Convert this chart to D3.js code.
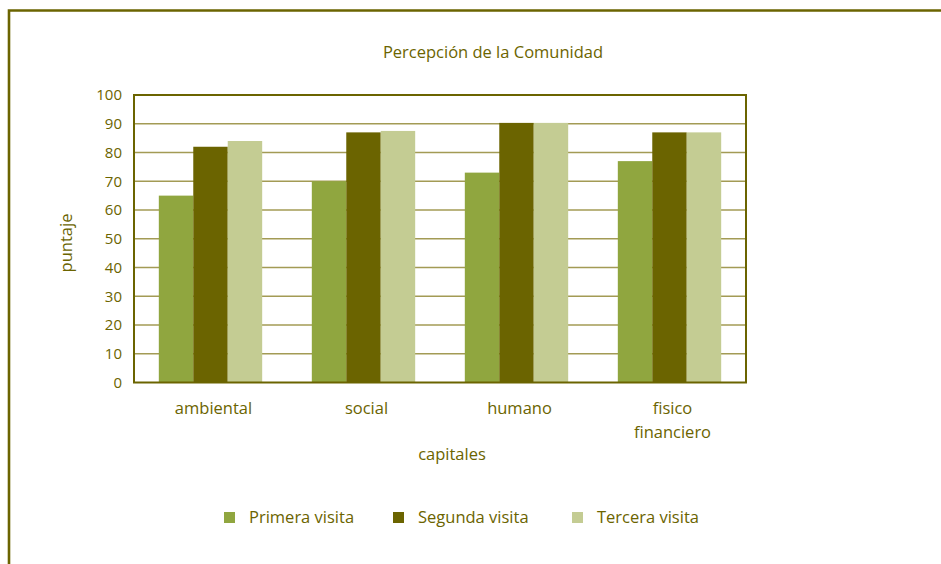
<!DOCTYPE html>
<html>
<head>
<meta charset="utf-8">
<script src="https://cdn.jsdelivr.net/npm/d3@7"></script>
<style>
  body { margin: 0; background: #fff; }
  text { font-family: "Open Sans", "Noto Sans", sans-serif; fill: #6b6400; }
</style>
</head>
<body>
<div id="chart"></div>
<script>
  // DATA
  var categories = ["ambiental", "social", "humano", "fisico financiero"];
  var series = ["Primera visita", "Segunda visita", "Tercera visita"];
  var primera = [65, 70, 73, 77];
  var segunda = [82, 87, 90.3, 87];
  var tercera = [84, 87.5, 90.3, 87];
  var yTicks = [0, 10, 20, 30, 40, 50, 60, 70, 80, 90, 100];
  var colors = ["#90a63f", "#6b6400", "#c4cc93"];

  var width = 941, height = 564;
  var plotLeft = 134, plotRight = 746, plotTop = 95, plotBottom = 382.5;
  var olive = "#6b6400";
  var fontSize = "16.5px";

  var svg = d3.select("#chart").append("svg")
              .attr("width", width)
              .attr("height", height);

  // outer frame (top + left edges only)
  svg.append("path")
     .attr("d", "M9," + height + " L9,10.5 L" + width + ",10.5")
     .style("fill", "none")
     .style("stroke", olive)
     .style("stroke-width", 2.6);

  // title
  svg.append("text").attr("x", 493).attr("y", 58).style("text-anchor", "middle")
     .style("font-size", fontSize).text("Percepción de la Comunidad");

  // SCALES
  var x = d3.scaleBand().domain(categories).range([plotLeft, plotRight]).padding(0);
  var xs = d3.scaleBand().domain(series).range([0, x.bandwidth()]).paddingInner(0).paddingOuter(0.72);
  var y = d3.scaleLinear().domain([0, 100]).range([plotBottom, plotTop]);

  // gridlines
  svg.append("g").selectAll("line").data(yTicks.filter(function(d) { return d > 0 && d < 100; }))
     .enter().append("line")
     .attr("x1", plotLeft).attr("x2", plotRight)
     .attr("y1", function(d) { return y(d); }).attr("y2", function(d) { return y(d); })
     .style("stroke", "#a39b55").style("stroke-width", 1.5);

  // bars
  var values = [primera, segunda, tercera];
  series.forEach(function(s, i) {
    svg.append("g").selectAll("rect").data(values[i]).enter().append("rect")
       .attr("x", function(d, j) { return x(categories[j]) + xs(s); })
       .attr("y", function(d) { return y(d); })
       .attr("width", xs.bandwidth())
       .attr("height", function(d) { return y(0) - y(d); })
       .style("fill", colors[i]);
  });

  // plot frame
  svg.append("rect").attr("x", plotLeft).attr("y", plotTop)
     .attr("width", plotRight - plotLeft).attr("height", plotBottom - plotTop)
     .style("fill", "none").style("stroke", olive).style("stroke-width", 2);

  // y axis
  var yAxis = svg.append("g").attr("transform", "translate(" + plotLeft + ",0)")
     .call(d3.axisLeft(y).tickValues(yTicks).tickSize(0).tickPadding(12));
  yAxis.select(".domain").remove();
  yAxis.selectAll("text").style("font-size", "15px").style("fill", olive)
       .style("font-family", "'Open Sans', 'Noto Sans', sans-serif");

  // x axis labels
  var xAxis = svg.append("g");
  xAxis.selectAll("text").data(categories).enter().append("text")
     .attr("x", function(d) { return x(d) + x.bandwidth() / 2 + 3; })
     .attr("y", 414)
     .style("text-anchor", "middle")
     .style("font-size", fontSize)
     .each(function(d) {
       var words = d.split(" ");
       var t = d3.select(this);
       words.forEach(function(w, k) {
         t.append("tspan").attr("x", t.attr("x")).attr("dy", k === 0 ? 0 : 24).text(w);
       });
     });

  // axis titles
  svg.append("text").attr("x", 452).attr("y", 460).style("text-anchor", "middle")
     .style("font-size", fontSize).text("capitales");
  svg.append("text").attr("transform", "translate(72,243) rotate(-90)")
     .style("text-anchor", "middle").style("font-size", fontSize).text("puntaje");

  // LEGEND
  var legendX = [224, 393, 572];
  var legend = svg.append("g").selectAll("g").data(series).enter().append("g")
     .attr("transform", function(d, i) { return "translate(" + legendX[i] + ",512)"; });
  legend.append("rect").attr("width", 11).attr("height", 11)
     .style("fill", function(d, i) { return colors[i]; });
  legend.append("text").attr("x", 25).attr("y", 10.5)
     .style("font-size", fontSize).text(function(d) { return d; });
</script>
</body>
</html>
